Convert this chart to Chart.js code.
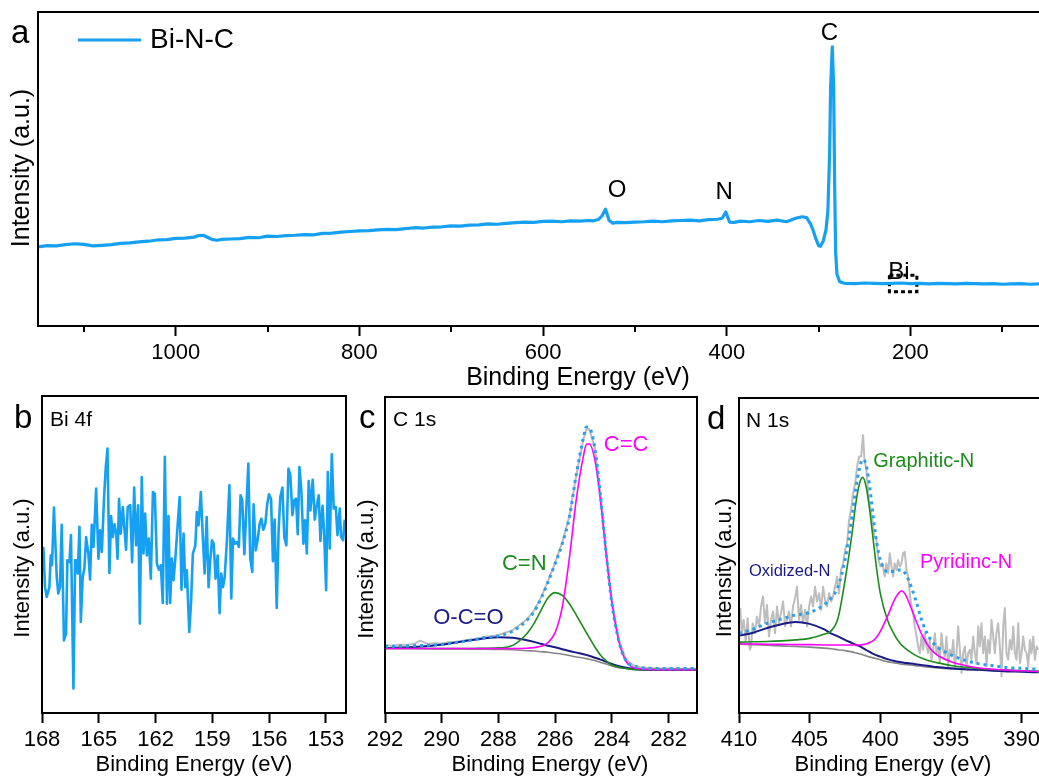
<!DOCTYPE html>
<html>
<head>
<meta charset="utf-8">
<script src="https://cdn.jsdelivr.net/npm/chart.js@4/dist/chart.umd.min.js"></script>
<style>
  html, body { margin: 0; padding: 0; background: #fff; width: 1039px; height: 776px; overflow: hidden; }
  canvas { position: absolute; }
</style>
</head>
<body>
<canvas id="panel-a"></canvas>
<canvas id="panel-b"></canvas>
<canvas id="panel-c"></canvas>
<canvas id="panel-d"></canvas>
<script>
// ---- survey (a) ----
const surveyEnergy = [
  1150,1140,1130,1120,1110,1100,1090,1080,1070,1060,
  1050,1040,1030,1020,1010,1000,990,980,975,970,
  965,960,955,950,940,930,920,910,900,890,
  880,870,860,850,840,830,820,810,800,790,
  780,770,760,750,740,730,720,710,700,690,
  680,670,660,650,640,630,620,610,600,590,
  580,570,560,550,545,540,536,532,528,524,
  520,510,500,490,480,470,460,450,440,430,
  420,410,405,401,397,392,385,375,365,355,
  345,335,325,318,313,309,306,303,300,298,
  295,292,289.9,288,286.9,285.1,283.6,282.5,281.4,280,
  277,273,270,260,250,240,230,220,210,200,
  190,180,170,160,150,140,130,120,110,100,
  90,80,70,60
];
const surveyIntensity = [
  25.2,25.6,25.5,25.9,26.2,26.0,25.5,25.7,25.9,26.3,
  26.5,26.8,27.0,27.4,27.5,27.9,28.0,28.3,28.8,28.9,
  28.2,27.5,27.3,27.6,27.7,27.8,28.2,28.1,28.6,28.5,
  28.8,28.9,29.1,29.0,29.5,29.6,29.9,30.1,30.3,30.4,
  30.6,30.8,30.7,31.0,31.3,31.2,31.5,31.6,31.9,31.8,
  32.1,32.2,32.5,32.4,32.7,32.9,33.1,33.0,33.3,33.4,
  33.2,33.5,33.4,33.6,33.5,33.9,35.0,37.2,33.6,32.7,
  33.0,32.9,33.1,33.2,33.4,33.2,33.5,33.6,33.7,33.5,
  33.9,34.0,34.3,36.3,33.1,33.0,33.4,33.2,33.6,33.3,
  33.7,33.2,34.3,34.8,34.5,32.6,30.5,27.8,25.6,25.4,
  27.0,30.5,36.6,55.0,76.0,88.9,76.0,44.4,23.2,16.5,
  14.1,13.7,13.6,13.5,13.7,13.6,13.5,13.6,13.7,13.5,
  13.6,13.4,13.6,13.5,13.4,13.6,13.5,13.4,13.5,13.3,
  13.4,13.5,13.3,13.4
];
const surveyTicks = [1000, 800, 600, 400, 200];
const surveyMinorTicks = [1100, 900, 700, 500, 300, 100];

// ---- Bi 4f (b) ----
const biEnergy = [
  167.93,167.84,167.75,167.61,167.54,167.47,167.37,167.22,167.14,167.05,
  166.96,166.84,166.73,166.66,166.55,166.47,166.34,166.25,166.17,166.11,
  166.02,165.95,165.85,165.76,165.67,165.55,165.46,165.37,165.28,165.23,
  165.14,165.02,164.93,164.84,164.72,164.63,164.54,164.44,164.35,164.26,
  164.17,164.08,164.01,163.93,163.84,163.73,163.64,163.56,163.47,163.34,
  163.24,163.13,163.03,162.92,162.83,162.73,162.64,162.55,162.46,162.36,
  162.25,162.14,162.04,161.93,161.83,161.72,161.62,161.51,161.40,161.32,
  161.23,161.14,161.05,160.95,160.84,160.73,160.63,160.52,160.43,160.35,
  160.22,160.13,160.03,159.90,159.82,159.73,159.61,159.52,159.41,159.30,
  159.20,159.11,159.02,158.93,158.83,158.72,158.62,158.53,158.44,158.35,
  158.23,158.10,158.00,157.91,157.81,157.70,157.60,157.51,157.42,157.31,
  157.21,157.10,157.00,156.89,156.82,156.71,156.61,156.50,156.41,156.31,
  156.20,156.11,156.01,155.90,155.80,155.71,155.60,155.50,155.41,155.30,
  155.20,155.09,154.98,154.88,154.77,154.67,154.58,154.49,154.40,154.30,
  154.19,154.10,154.01,153.91,153.82,153.70,153.59,153.50,153.38,153.29,
  153.18,153.10,152.99,152.90,152.80,152.69,152.59,152.48,152.39,152.27,
  152.20,152.09,152.01
];
const biIntensity = [
  52.4,39.7,36.6,39.7,49.7,46.6,64.8,42.9,37.7,39.7,
  59.4,22.9,25.0,48.2,47.6,56.1,7.7,48.2,48.2,44.0,
  58.7,28.7,42.9,45.6,55.5,50.3,42.1,59.4,52.4,58.7,
  70.8,48.7,57.6,50.8,68.1,77.6,83.4,44.2,62.1,55.5,
  59.5,56.6,48.7,67.6,56.6,65.0,57.6,51.5,65.0,65.6,
  47.6,71.1,52.9,65.5,28.2,74.4,50.3,62.9,49.7,55.0,
  42.4,69.7,69.2,47.1,45.2,46.6,34.7,80.8,34.5,62.1,
  34.7,48.7,41.9,49.2,58.7,68.1,38.9,56.6,39.7,45.0,
  25.6,34.5,50.3,52.9,63.4,59.2,69.7,57.6,44.0,61.8,
  39.7,48.2,54.5,53.4,42.4,49.7,31.5,44.0,39.7,42.9,
  54.5,71.8,36.1,55.0,53.4,53.9,52.4,68.7,67.1,50.1,
  63.9,78.7,48.7,44.5,65.8,51.3,54.5,59.7,61.3,57.8,
  59.7,65.6,69.0,67.6,47.9,61.0,33.1,57.6,68.1,71.1,
  55.5,52.9,77.1,75.0,62.4,67.1,67.6,56.4,77.6,70.3,
  53.4,60.8,50.3,73.2,63.9,73.6,61.0,65.0,68.7,54.3,
  65.4,57.6,38.7,76.0,51.9,81.6,64.5,65.0,56.1,64.5,
  55.5,54.5,61.0
];
const biTicks = [168, 165, 162, 159, 156, 153];

// ---- C 1s (c) ----
const c1sRawEnergy = [292,291.75,291.5,291.25,291,290.75,290.5,290.25,290,289.75,289.5,289.25,289,288.75,288.5,288.25,288,287.5,287,286.75,286.5,286.25,286,285.75,285.5,285.25,285,284.9,284.8,284.6,284.4,284.2,284,283.75,283.5,283.25,283,282.5,282,281.5,281];
const c1sRaw = [21.5,21.3,21.6,21.5,21.8,22.9,21.9,22.1,22.0,22.4,22.5,22.9,23.2,23.5,24.1,24.3,24.7,26.2,29.6,32.3,36.6,41.9,47.6,53.9,62.3,75.5,86.8,89.7,89.9,83.9,68.9,51.0,35.2,23.1,16.9,15.1,14.5,14.2,14.1,14.0,14.0];
const c1sEnergy = [292,291,290,289.5,289,288.5,288,287.5,287,286.75,286.5,286.25,286,285.75,285.5,285.25,285,284.9,284.8,284.6,284.4,284.2,284,283.75,283.5,283.25,283,282.5,282,281.5,281];
const c1sEnvelope = [21.1,21.3,21.7,22.3,23.0,23.8,24.4,25.9,29.3,32.0,36.2,41.5,47.3,53.6,62.0,75.8,87.3,90.5,90.3,83.7,68.4,50.4,34.6,22.5,16.5,14.9,14.4,14.1,14.1,14.1,14.1];
const c1sBackground = [20.4,20.4,20.3,20.3,20.2,20.2,20.1,20.0,19.7,19.6,19.4,19.2,18.9,18.6,18.2,17.7,17.4,17.2,17.0,16.6,16.0,15.5,14.9,14.3,14.1,13.8,13.7,13.7,13.7,13.7,13.7];
const c1sOCO = [20.6,20.9,21.6,22.3,23.0,23.6,24.0,23.8,23.0,22.5,21.9,21.3,20.8,20.2,19.6,19.1,18.6,18.4,18.1,17.5,16.9,16.2,15.5,14.8,14.3,14.0,13.8,13.7,13.7,13.7,13.7];
const c1sCN = [20.4,20.4,20.4,20.4,20.4,20.5,20.6,21.4,25.1,28.3,32.5,36.5,38.1,37.2,34.6,30.9,27.0,25.4,23.9,20.9,18.3,16.5,15.2,14.5,14.1,13.8,13.7,13.7,13.7,13.7,13.7];
const c1sCC = [20.4,20.4,20.4,20.4,20.4,20.4,20.4,20.4,20.5,20.7,21.1,22.3,25.5,33.5,49.0,68.0,81.5,85.0,85.2,80.0,67.0,50.0,35.0,22.5,16.3,14.4,14.0,13.7,13.7,13.7,13.7];
const c1sTicks = [292, 290, 288, 286, 284, 282];

// ---- N 1s (d) ----
const n1sRawEnergy = [
  409.91,409.81,409.67,409.53,409.39,409.24,409.15,409.03,408.87,408.73,
  408.58,408.44,408.30,408.16,408.02,407.88,407.73,407.59,407.45,407.31,
  407.17,407.03,406.88,406.74,406.60,406.46,406.32,406.18,406.03,405.89,
  405.75,405.61,405.47,405.33,405.18,405.04,404.90,404.76,404.62,404.48,
  404.33,404.19,404.05,403.91,403.77,403.63,403.48,403.34,403.20,403.06,
  402.92,402.78,402.63,402.49,402.35,402.21,402.07,401.93,401.78,401.64,
  401.50,401.36,401.22,401.12,400.98,400.84,400.70,400.56,400.42,400.27,
  400.13,399.99,399.85,
  399.68,399.57,399.45,399.33,399.21,399.09,398.98,398.86,398.74,398.62,
  398.50,398.39,398.27,398.15,398.03,397.91,397.80,397.68,397.56,397.44,
  397.32,397.20,397.09,396.97,396.85,396.73,396.61,396.50,396.38,396.26,
  396.14,396.02,395.91,395.79,395.67,395.55,395.43,395.32,395.20,395.08,
  394.96,394.84,394.73,394.61,394.49,394.37,394.25,394.14,394.02,393.90,
  393.78,393.66,393.55,393.43,393.31,393.19,393.07,392.96,392.84,392.72,
  392.60,392.48,392.37,392.25,392.13,392.01,391.89,391.78,391.66,391.54,
  391.42,391.30,391.19,391.07,390.95,390.83,390.71,390.59,390.48,390.36,
  390.24,390.12,390.00,389.89,389.77,389.65,389.53,389.41,389.30,389.18,
  389.06,388.94,388.82
];
const n1sRaw = [
  33.3,25.3,29.6,22.7,30.1,20.1,21.0,28.5,25.3,30.6,
  27.5,33.8,37.0,28.5,34.3,24.3,29.6,32.2,25.3,33.8,
  28.5,31.7,35.4,27.5,29.6,32.2,27.5,33.8,36.4,40.1,
  29.6,34.3,28.5,32.7,27.5,33.8,37.0,33.8,40.1,35.4,
  38.0,32.7,40.1,35.9,33.8,38.0,35.4,37.0,40.1,43.3,
  38.0,45.4,47.5,51.8,53.9,61.3,64.5,69.7,72.9,78.2,
  81.4,81.4,88.2,80.3,77.1,68.7,64.5,61.3,56.0,54.9,
  48.6,46.5,47.5,
  43.3,47.5,44.4,50.7,46.5,43.3,47.5,45.4,48.6,46.5,
  47.5,50.7,51.2,45.4,43.3,38.0,33.8,31.7,27.5,24.3,
  21.1,19.0,24.3,20.1,25.3,21.1,19.0,23.2,16.9,20.1,
  25.3,19.0,21.1,15.8,25.3,20.1,17.9,24.3,14.8,20.1,
  17.9,23.2,14.8,19.0,27.5,20.1,12.7,19.0,21.1,14.8,
  19.0,20.1,16.9,24.3,19.0,15.8,27.5,21.1,28.5,19.0,
  24.3,14.8,23.2,19.0,29.6,24.3,19.0,25.3,28.5,21.1,
  11.6,27.5,33.3,19.0,16.9,23.2,20.1,27.5,19.0,16.9,
  28.5,15.8,19.0,24.3,20.1,19.0,14.8,23.2,19.0,24.3,
  16.9,21.1,20.1
];
const n1sEnergy = [410,409,408,407,406,405,404,403.5,403,402.5,402,401.75,401.5,401.25,401,400.75,400.5,400.25,400,399.5,399,398.75,398.5,398.25,398,397.5,397,396.5,396,395,394,393,392,391,390,388.8];
const n1sEnvelope = [25.3,26.6,28.5,29.8,31.1,31.9,34.3,36.4,40.1,48.6,62.3,70.8,77.1,80.5,78.7,71.8,62.3,53.9,48.6,44.9,44.9,45.4,45.4,44.4,42.2,35.9,28.5,23.7,21.1,18.5,16.7,15.6,15.0,14.4,14.2,13.9];
const n1sBackground = [21.9,21.7,21.5,21.3,21.1,20.9,20.6,20.4,20.1,19.8,19.4,19.1,18.8,18.5,18.1,17.8,17.5,17.2,16.9,16.3,15.9,15.7,15.5,15.4,15.3,15.0,14.8,14.5,14.3,14.0,13.8,13.7,13.5,13.4,13.3,13.2];
const n1sOxidized = [24.5,25.5,27.0,28.2,28.9,28.3,26.6,25.3,24.3,23.2,22.2,21.7,21.3,20.7,20.0,19.4,18.8,18.3,17.9,17.1,16.5,16.3,16.1,15.9,15.8,15.5,15.2,14.9,14.6,14.2,13.9,13.7,13.4,13.2,13.1,12.9];
const n1sGraphitic = [22.5,22.6,22.7,22.9,23.2,23.7,25.0,26.0,30.0,42.0,57.0,66.0,72.4,74.8,71.8,64.4,54.9,45.4,38.0,29.6,24.8,23.0,21.6,20.6,19.7,18.3,17.3,16.5,16.0,15.1,14.5,14.1,13.8,13.6,13.4,13.2];
const n1sPyridinic = [21.9,21.9,21.8,21.8,21.7,21.7,21.6,21.6,21.6,21.6,21.6,21.6,21.6,21.7,21.9,22.4,23.0,24.1,25.9,30.6,35.9,37.8,38.8,37.8,35.4,29.6,24.3,20.6,18.5,16.3,15.1,14.3,13.9,13.6,13.4,13.2];
const n1sTicks = [410, 405, 400, 395, 390];

// ---- styling ----
const FONT = "'Liberation Sans', Arial, Helvetica, sans-serif";
const BLUE = '#16a0f2';
const DOT_BLUE = '#2a9ff0';
const RAW_GREY = '#bdbdbd';
const BG_GREY = '#858585';
const NAVY = '#1a1a86';
const GREEN = '#1b8c1b';
const MAGENTA = '#ff00ff';

const pts = (xs, ys) => xs.map((v, i) => ({ x: v, y: ys[i] }));

function smooth(label, xs, ys, color, width) {
  return { label, data: pts(xs, ys), borderColor: color, borderWidth: width,
           cubicInterpolationMode: 'monotone', pointRadius: 0, fill: false };
}
function noisy(label, xs, ys, color, width) {
  return { label, data: pts(xs, ys), borderColor: color, borderWidth: width,
           tension: 0, pointRadius: 0, fill: false, borderJoinStyle: 'round' };
}
function dotted(label, xs, ys) {
  return { label, data: pts(xs, ys), borderColor: DOT_BLUE, borderWidth: 3,
           borderDash: [3, 4], cubicInterpolationMode: 'monotone', pointRadius: 0, fill: false };
}

// frame, minor ticks, notes and titles for one panel
function decor(cfg) {
  return {
    id: 'decor',
    beforeDatasetsDraw(chart) {
      if (!cfg.box) return;
      const { ctx, scales: { x, y } } = chart;
      const b = cfg.box;
      const x0 = x.getPixelForValue(b.x0), x1 = x.getPixelForValue(b.x1);
      const y0 = y.getPixelForValue(b.y0), y1 = y.getPixelForValue(b.y1);
      ctx.save();
      ctx.setLineDash([4, 3]);
      ctx.lineWidth = 3;
      ctx.strokeStyle = '#000';
      ctx.strokeRect(Math.min(x0, x1), Math.min(y0, y1), Math.abs(x1 - x0), Math.abs(y1 - y0));
      ctx.restore();
    },
    afterDraw(chart) {
      const { ctx, chartArea: a, scales: { x, y } } = chart;
      ctx.save();
      ctx.strokeStyle = '#000';
      ctx.lineWidth = 2;
      ctx.lineCap = 'square';
      ctx.beginPath();
      if (cfg.sides.includes('top')) { ctx.moveTo(a.left, a.top); ctx.lineTo(a.right, a.top); }
      if (cfg.sides.includes('right')) { ctx.moveTo(a.right, a.top); ctx.lineTo(a.right, a.bottom); }
      ctx.moveTo(a.left, a.top); ctx.lineTo(a.left, a.bottom);
      ctx.moveTo(a.left, a.bottom); ctx.lineTo(a.right, a.bottom);
      ctx.stroke();

      ctx.lineCap = 'butt';
      ctx.beginPath();
      (cfg.minor || []).forEach(v => {
        const px = Math.round(x.getPixelForValue(v));
        ctx.moveTo(px, a.bottom);
        ctx.lineTo(px, a.bottom + 6);
      });
      ctx.stroke();

      // notes placed in data units
      ctx.textAlign = 'center';
      ctx.textBaseline = 'middle';
      (cfg.notes || []).forEach(n => {
        ctx.fillStyle = n.color || '#000';
        ctx.font = n.size + 'px ' + FONT;
        ctx.fillText(n.text, x.getPixelForValue(n.x), y.getPixelForValue(n.y));
      });

      // page-positioned text
      ctx.translate(-cfg.origin[0], -cfg.origin[1]);
      (cfg.texts || []).forEach(t => {
        ctx.save();
        ctx.fillStyle = t.color || '#000';
        ctx.font = t.size + 'px ' + FONT;
        ctx.textAlign = t.align || 'left';
        ctx.textBaseline = t.base || 'alphabetic';
        ctx.translate(t.px, t.py);
        if (t.rot) ctx.rotate(t.rot);
        ctx.fillText(t.text, 0, 0);
        ctx.restore();
      });

      if (cfg.legend) {
        const l = cfg.legend;
        ctx.strokeStyle = l.color;
        ctx.lineWidth = 3;
        ctx.beginPath();
        ctx.moveTo(l.x0, l.y); ctx.lineTo(l.x1, l.y);
        ctx.stroke();
        ctx.fillStyle = '#000';
        ctx.font = l.size + 'px ' + FONT;
        ctx.textAlign = 'left';
        ctx.textBaseline = 'middle';
        ctx.fillText(l.text, l.tx, l.y);
      }
      ctx.restore();
    }
  };
}

function makePanel(id, box, area, opts) {
  const cv = document.getElementById(id);
  cv.width = box.w;
  cv.height = box.h;
  cv.style.left = box.x + 'px';
  cv.style.top = box.y + 'px';
  const yWidth = area.left - box.x;
  const xHeight = box.y + box.h - area.bottom;
  opts.decor.origin = [box.x, box.y];
  return new Chart(cv, {
    type: 'line',
    data: { datasets: opts.datasets },
    options: {
      responsive: false,
      animation: false,
      devicePixelRatio: 1,
      layout: { autoPadding: false,
                padding: { top: area.top - box.y, right: box.x + box.w - area.right, left: 0, bottom: 0 } },
      plugins: { legend: { display: false }, tooltip: { enabled: false } },
      scales: {
        x: {
          type: 'linear', reverse: true, min: opts.xMin, max: opts.xMax,
          afterFit: s => { s.height = xHeight; },
          afterBuildTicks: s => { s.ticks = opts.ticks.map(v => ({ value: v })); },
          ticks: { autoSkip: false, maxRotation: 0, padding: 3.5, color: '#000',
                   font: { family: FONT, size: 22 }, callback: v => String(v) },
          grid: { display: true, drawOnChartArea: false, drawTicks: true,
                  tickLength: 10, tickWidth: 2, tickColor: '#000' },
          border: { display: false }
        },
        y: {
          min: 0, max: 100,
          afterFit: s => { s.width = yWidth; },
          ticks: { display: false },
          grid: { display: false },
          border: { display: false }
        }
      }
    },
    plugins: [decor(opts.decor)]
  });
}

// (a) survey
makePanel('panel-a', { x: 0, y: 0, w: 1039, h: 392 }, { left: 38, top: 12, right: 1039, bottom: 326 }, {
  xMin: 60, xMax: 1150, ticks: surveyTicks,
  datasets: [noisy('Bi-N-C', surveyEnergy, surveyIntensity, BLUE, 3.2)],
  decor: {
    sides: ['top'],
    minor: surveyMinorTicks,
    box: { x0: 222.9, x1: 193.0, y0: 16.2, y1: 10.9 },
    notes: [
      { text: 'C', x: 288.2, y: 93.2, size: 24 },
      { text: 'O', x: 519.5, y: 43.2, size: 24 },
      { text: 'N', x: 402.9, y: 42.4, size: 24 },
      { text: 'Bi', x: 212.5, y: 17.0, size: 24 }
    ],
    texts: [
      { text: 'a', px: 11, py: 42.7, size: 33 },
      { text: 'Binding Energy (eV)', px: 578, py: 385, size: 25, align: 'center' },
      { text: 'Intensity (a.u.)', px: 22, py: 168, size: 25, align: 'center', base: 'middle', rot: -Math.PI / 2 }
    ],
    legend: { x0: 78, x1: 141, y: 40, tx: 150, text: 'Bi-N-C', size: 28, color: BLUE }
  }
});

// (b) Bi 4f
makePanel('panel-b', { x: 0, y: 392, w: 362, h: 384 }, { left: 42, top: 396, right: 346, bottom: 713 }, {
  xMin: 151.94, xMax: 168, ticks: biTicks,
  datasets: [noisy('Bi 4f', biEnergy, biIntensity, BLUE, 2.6)],
  decor: {
    sides: ['top', 'right'],
    texts: [
      { text: 'b', px: 14, py: 428.3, size: 33 },
      { text: 'Bi 4f', px: 50, py: 426, size: 21 },
      { text: 'Binding Energy (eV)', px: 194, py: 770.7, size: 22, align: 'center' },
      { text: 'Intensity (a.u.)', px: 23, py: 568, size: 22, align: 'center', base: 'middle', rot: -Math.PI / 2 }
    ]
  }
});

// (c) C 1s
makePanel('panel-c', { x: 345, y: 392, w: 360, h: 384 }, { left: 385, top: 397, right: 697, bottom: 713 }, {
  xMin: 281, xMax: 292, ticks: c1sTicks,
  datasets: [
    dotted('Envelope', c1sEnergy, c1sEnvelope),
    smooth('C=C', c1sEnergy, c1sCC, MAGENTA, 1.6),
    smooth('C=N', c1sEnergy, c1sCN, GREEN, 1.6),
    smooth('O-C=O', c1sEnergy, c1sOCO, NAVY, 2),
    smooth('Background', c1sEnergy, c1sBackground, BG_GREY, 1.6),
    noisy('Raw', c1sRawEnergy, c1sRaw, RAW_GREY, 2)
  ],
  decor: {
    sides: ['top', 'right'],
    notes: [
      { text: 'C=C', x: 283.5, y: 84.7, size: 22, color: MAGENTA },
      { text: 'C=N', x: 287.09, y: 47.3, size: 22, color: GREEN },
      { text: 'O-C=O', x: 289.06, y: 30.1, size: 22, color: NAVY }
    ],
    texts: [
      { text: 'c', px: 359, py: 428.3, size: 33 },
      { text: 'C 1s', px: 393, py: 426, size: 21 },
      { text: 'Binding Energy (eV)', px: 550, py: 770.7, size: 22, align: 'center' },
      { text: 'Intensity (a.u.)', px: 367, py: 569, size: 22, align: 'center', base: 'middle', rot: -Math.PI / 2 }
    ]
  }
});

// (d) N 1s
makePanel('panel-d', { x: 700, y: 392, w: 350, h: 384 }, { left: 739, top: 398, right: 1039, bottom: 713 }, {
  xMin: 388.77, xMax: 410, ticks: n1sTicks,
  datasets: [
    dotted('Envelope', n1sEnergy, n1sEnvelope),
    smooth('Pyridinc-N', n1sEnergy, n1sPyridinic, MAGENTA, 1.6),
    smooth('Graphitic-N', n1sEnergy, n1sGraphitic, GREEN, 1.6),
    smooth('Oxidized-N', n1sEnergy, n1sOxidized, NAVY, 2),
    smooth('Background', n1sEnergy, n1sBackground, BG_GREY, 1.6),
    noisy('Raw', n1sRawEnergy, n1sRaw, RAW_GREY, 2)
  ],
  decor: {
    sides: ['top'],
    notes: [
      { text: 'Graphitic-N', x: 396.93, y: 80.0, size: 20, color: GREEN },
      { text: 'Pyridinc-N', x: 393.93, y: 47.8, size: 20, color: MAGENTA },
      { text: 'Oxidized-N', x: 406.41, y: 44.9, size: 16.5, color: NAVY }
    ],
    texts: [
      { text: 'd', px: 707, py: 429, size: 33 },
      { text: 'N 1s', px: 746, py: 427, size: 21 },
      { text: 'Binding Energy (eV)', px: 893, py: 770.7, size: 22, align: 'center' },
      { text: 'Intensity (a.u.)', px: 725, py: 567.5, size: 22, align: 'center', base: 'middle', rot: -Math.PI / 2 }
    ]
  }
});
</script>
</body>
</html>
